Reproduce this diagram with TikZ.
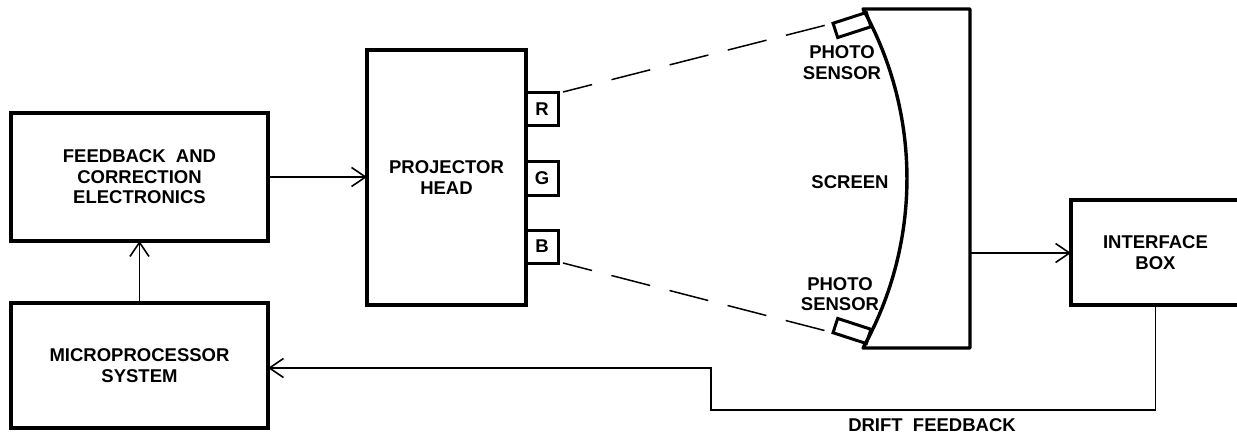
\documentclass[tikz,border=0pt]{standalone}
\usepackage{fontspec}
\setmainfont{Liberation Sans}
\usetikzlibrary{arrows.meta}
\newcommand{\lblfont}{\fontsize{18.5}{20.5}\selectfont\bfseries}
\begin{document}
\begin{tikzpicture}[x=1pt,y=-1pt,
  box/.style={draw, line width=3.2pt, inner sep=0pt, outer sep=0pt, align=center, font=\lblfont},
  port/.style={draw, line width=3pt, inner sep=0pt, outer sep=0pt, minimum width=32, minimum height=33, font=\lblfont},
  sensor/.style={draw, line width=3pt, inner sep=0pt, outer sep=0pt, minimum width=35, minimum height=15},
  lbl/.style={align=center, font=\lblfont, inner sep=0pt},
  conn/.style={line width=1.5pt, -{Straight Barb[length=14pt,width=19pt,line width=1.6pt]}},
  dashln/.style={line width=1.5pt, dash pattern=on 40pt off 20pt, dash phase=10pt}]
\useasboundingbox (0,0) rectangle (1237,433);

% blocks
\node[box, minimum width=257, minimum height=128] (fb) at (139.5,177) {FEEDBACK\ \ AND\\CORRECTION\\ELECTRONICS};
\node[box, minimum width=257, minimum height=125] (micro) at (139.5,365.5) {MICROPROCESSOR\\SYSTEM};
\node[box, minimum width=159, minimum height=255] (proj) at (446.5,177.5) {PROJECTOR\\HEAD};
\node[port] (R) at (542,109.5) {R};
\node[port] (G) at (542,178.5) {G};
\node[port] (B) at (542,246.5) {B};
\node[box, minimum width=169, minimum height=105] (iface) at (1155.5,252.5) {INTERFACE\\BOX};

% screen
\draw[line width=3.4pt, line join=round] (863,9) -- (970,9) -- (970,348) -- (863,348)
  .. controls (921.6,242.6) and (921.6,114.4) .. cycle;
\coordinate (scr) at (970,253);

% photo sensors
\node[sensor, rotate=18] (ps1) at (852,25) {};
\node[sensor, rotate=-18] (ps2) at (852,331) {};

% labels
\node[lbl] (l1) at (842,62.5) {PHOTO\\SENSOR};
\node[lbl] (l2) at (850,182) {SCREEN};
\node[lbl] (l3) at (840,294) {PHOTO\\SENSOR};
\node[lbl] (l4) at (932,425) {DRIFT\ \ FEEDBACK};

% light paths
\draw[dashln, shorten >=8pt] (R.north east) ++(5,-1) -- (ps1.north west);
\draw[dashln, shorten >=8pt] (B.south east) ++(5,0) -- (ps2.south west);

% connectors
\coordinate (d1) at (711,410);
\coordinate (d2) at (711,368);
\draw[conn] (fb.east) -- (fb.east -| proj.west);
\draw[conn] (micro.north) -- (fb.south);
\draw[conn] (scr) -- (scr -| iface.west);
\draw[conn] (iface.south) |- (d1) -- (d2) -- (d2 -| micro.east);
\end{tikzpicture}
\end{document}
